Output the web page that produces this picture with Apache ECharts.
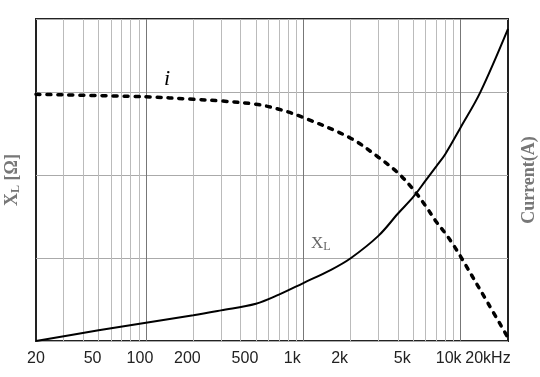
<!DOCTYPE html>
<html lang="en">
<head>
<meta charset="UTF-8">
<title>XL / Current vs frequency</title>
<script src="https://cdn.jsdelivr.net/npm/echarts@6/dist/echarts.min.js"></script>
<style>
    html, body { margin: 0; padding: 0; background: #fff; }
    #chart { width: 540px; height: 377px; }
</style>
</head>
<body>
<div id="chart"></div>
<script>
    // reactance curve X_L (grid units, 0 at bottom)
    var freqXL = [20, 50, 100, 200, 300, 500, 700, 1000, 1500, 2000, 3000, 4000, 5000, 6000, 7000, 8000, 10000, 13300, 20000];
    var valXL  = [0, 0.13, 0.22, 0.31, 0.37, 0.45, 0.56, 0.70, 0.86, 1.0, 1.27, 1.54, 1.74, 1.94, 2.11, 2.26, 2.58, 3.0, 3.77];
    // current curve i
    var freqI = [20, 100, 200, 300, 500, 700, 1000, 2000, 3000, 4000, 5000, 6000, 7000, 8000, 9000, 10000, 15000, 20000];
    var valI  = [2.98, 2.95, 2.92, 2.90, 2.86, 2.80, 2.70, 2.45, 2.22, 2.03, 1.83, 1.63, 1.44, 1.30, 1.16, 1.02, 0.45, 0.04];

    var tickFreq = [20, 50, 100, 200, 500, 1000, 2000, 5000, 10000, 20000];
    var tickText = ['20', '50', '100', '200', '500', '1k', '2k', '5k', '10k', '20kHz'];
    var minorGrid = [30, 40, 50, 60, 70, 80, 90, 200, 300, 400, 500, 600, 700, 800, 900,
                     2000, 3000, 4000, 5000, 6000, 7000, 8000, 9000];
    var majorGrid = [100, 1000, 10000];

    function pairs(xs, ys) {
        var out = [];
        for (var i = 0; i < xs.length; i++) out.push([xs[i], ys[i]]);
        return out;
    }
    // the 10k label sits very close to 20kHz, so it goes on its own axis
    var mainTicks = tickFreq.filter(function (v) { return v !== 10000; });
    // log extent ends come back a hair off, keep the end ticks inside it
    var labelAt = mainTicks.map(function (v, k) {
        if (k === 0) return v * 1.00001;
        if (k === mainTicks.length - 1) return v * 0.99999;
        return v;
    });
    function textFor(v) {
        var k = 0;
        for (var j = 1; j < tickFreq.length; j++) {
            if (Math.abs(tickFreq[j] - v) < Math.abs(tickFreq[k] - v)) k = j;
        }
        return tickText[k];
    }

    var tickFont = { fontSize: 16, color: '#222', fontFamily: 'Liberation Sans' };
    var myChart = echarts.init(document.getElementById('chart'));
    var option = {
        animation: false,
        backgroundColor: '#fff',
        grid: {
            left: 36, right: 32, top: 19, bottom: 36,
            outerBoundsMode: 'none', containLabel: false,
            show: true, borderColor: '#222', borderWidth: 2
        },
        xAxis: [{
            type: 'log', logBase: 10, min: 20, max: 20000,
            axisLine: { show: false },
            axisTick: { show: false, customValues: minorGrid },
            splitLine: { show: true, lineStyle: { color: '#bbb', width: 1 } },
            axisLabel: {
                customValues: labelAt,
                showMinLabel: true, showMaxLabel: true,
                margin: 10,
                fontSize: 16, color: '#222', fontFamily: 'Liberation Sans',
                formatter: function (v) {
                    var t = textFor(v);
                    if (t === '20') return '{n|' + t + '}';
                    if (t === '20kHz') return '{z|' + t + '}';
                    if (t === '50' || t === '100' || t === '200') return '{a|' + t + '}';
                    return '{b|' + t + '}';
                },
                rich: {
                    n: tickFont,
                    a: Object.assign({ padding: [0, 12, 0, 0] }, tickFont),
                    b: Object.assign({ padding: [0, 22, 0, 0] }, tickFont),
                    z: Object.assign({ padding: [0, 40, 0, 0] }, tickFont)
                }
            }
        }, {
            type: 'log', logBase: 10, min: 20, max: 20000, position: 'top',
            axisLine: { show: false },
            axisTick: { show: false, customValues: majorGrid },
            axisLabel: { show: false },
            splitLine: { show: true, lineStyle: { color: '#777', width: 1 } }
        }, {
            type: 'log', logBase: 10, min: 20, max: 20000, position: 'bottom',
            axisLine: { show: false },
            axisTick: { show: false },
            splitLine: { show: false },
            axisLabel: {
                customValues: [10000],
                margin: 10,
                formatter: function (v) { return '{b|' + textFor(v) + '}'; },
                rich: { b: Object.assign({ padding: [0, 24, 0, 0] }, tickFont) }
            }
        }],
        yAxis: [{
            type: 'value', min: 0, max: 3.89, interval: 1,
            axisLine: { show: false }, axisTick: { show: false }, axisLabel: { show: false },
            splitLine: { show: true, lineStyle: { color: '#aaa', width: 1 } },
            name: '{x|X}{s|L}{x| [Ω]}',
            nameLocation: 'middle', nameRotate: 90, nameGap: 14,
            nameTextStyle: {
                rich: {
                    x: { fontSize: 18, fontWeight: 'bold', color: '#777', fontFamily: 'Liberation Serif', lineHeight: 20 },
                    s: { fontSize: 12, fontWeight: 'bold', color: '#777', fontFamily: 'Liberation Serif', lineHeight: 12, verticalAlign: 'bottom' }
                }
            }
        }, {
            type: 'value', min: 0, max: 3.89, interval: 1, position: 'right',
            axisLine: { show: false }, axisTick: { show: false }, axisLabel: { show: false },
            splitLine: { show: false },
            name: 'Current(A)',
            nameLocation: 'middle', nameRotate: 90, nameGap: 12,
            nameTextStyle: { fontSize: 18, fontWeight: 'bold', color: '#777', fontFamily: 'Liberation Serif' }
        }],
        series: [{
            name: 'XL',
            type: 'line',
            xAxisIndex: 0, yAxisIndex: 0,
            data: pairs(freqXL, valXL),
            smooth: 0.35,
            showSymbol: false,
            lineStyle: { color: '#000', width: 2 },
            markPoint: {
                symbolSize: 0,
                label: {
                    show: true, position: 'inside',
                    formatter: '{x|X}{s|L}',
                    rich: {
                        x: { fontSize: 17, color: '#666', fontFamily: 'Liberation Serif', lineHeight: 20 },
                        s: { fontSize: 12, color: '#666', fontFamily: 'Liberation Serif', lineHeight: 12, verticalAlign: 'bottom' }
                    }
                },
                data: [{ coord: [1290, 1.18] }]
            }
        }, {
            name: 'i',
            type: 'line',
            xAxisIndex: 0, yAxisIndex: 1,
            data: pairs(freqI, valI),
            smooth: 0.35,
            showSymbol: false,
            lineStyle: { color: '#000', width: 3.5, type: [4, 7], cap: 'round' },
            markPoint: {
                symbolSize: 0,
                label: {
                    show: true, position: 'inside', formatter: 'i',
                    fontSize: 22, fontStyle: 'italic', color: '#000', fontFamily: 'Liberation Serif'
                },
                data: [{ coord: [136, 3.16] }]
            }
        }]
    };
    myChart.setOption(option);
</script>
</body>
</html>
